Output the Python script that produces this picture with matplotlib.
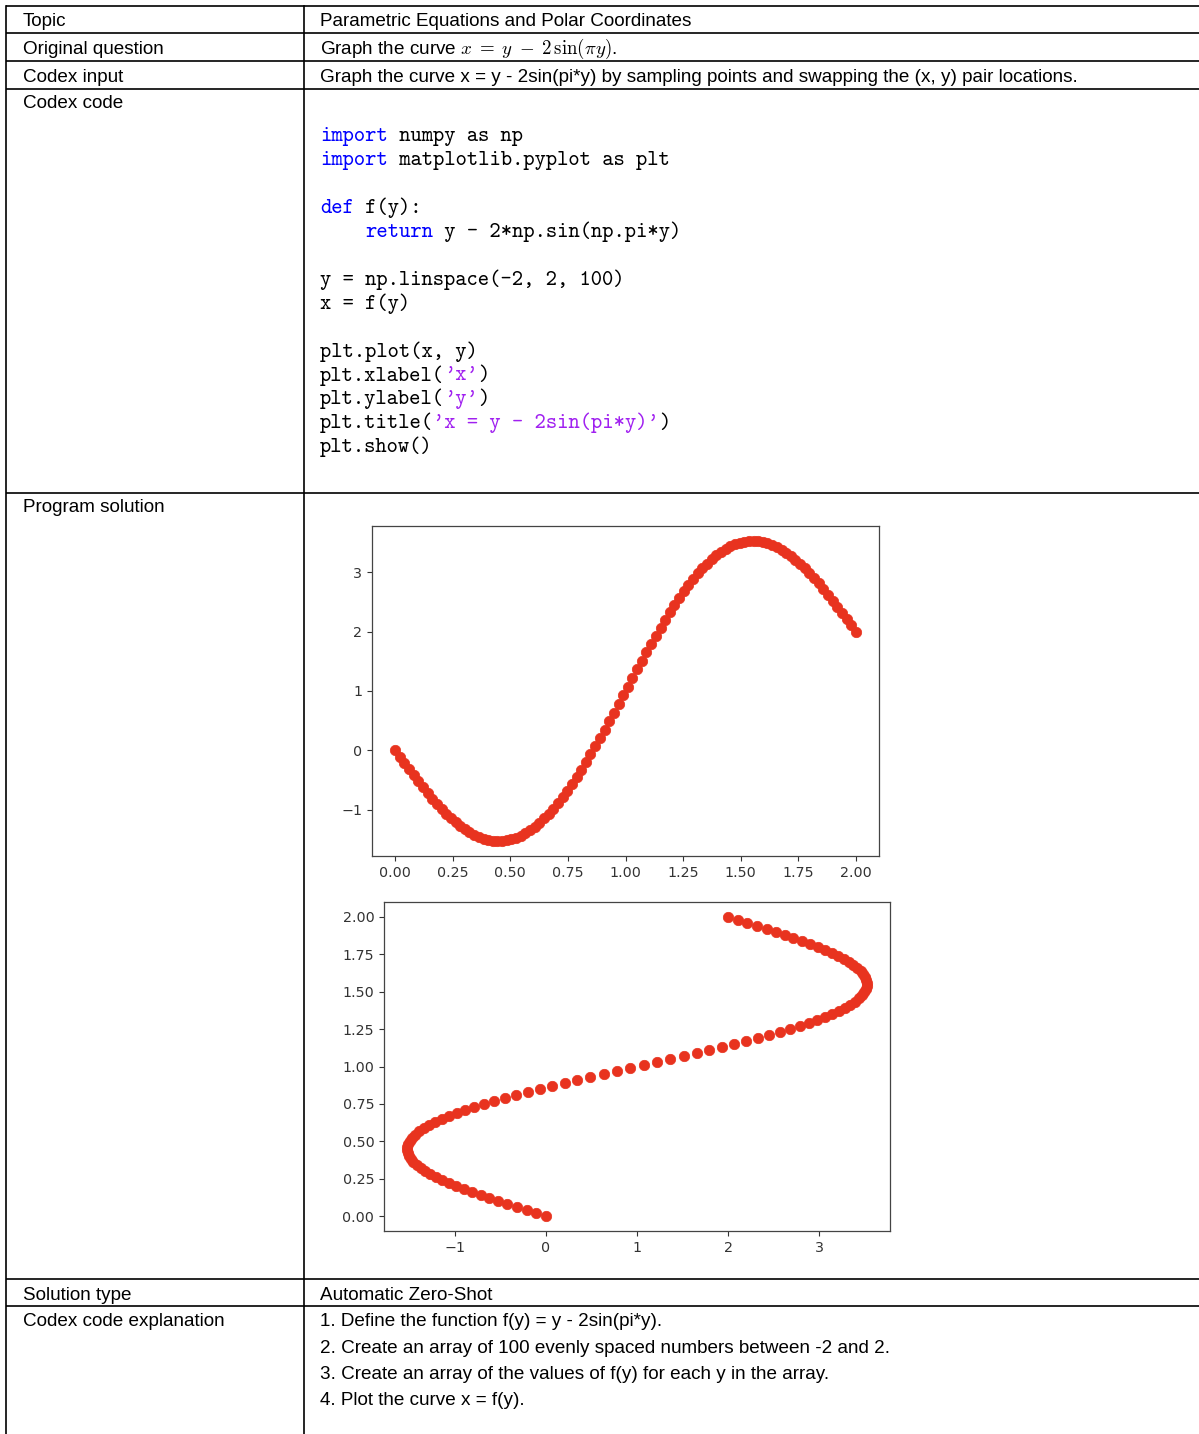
import matplotlib
matplotlib.use("Agg")
import matplotlib.pyplot as plt

plt.rcParams['mathtext.fontset'] = 'cm'

y_vals = [0.000, 0.020, 0.040, 0.061, 0.081, 0.101, 0.121, 0.141, 0.162, 0.182,
          0.202, 0.222, 0.242, 0.263, 0.283, 0.303, 0.323, 0.343, 0.364, 0.384,
          0.404, 0.424, 0.444, 0.465, 0.485, 0.505, 0.525, 0.545, 0.566, 0.586,
          0.606, 0.626, 0.646, 0.667, 0.687, 0.707, 0.727, 0.747, 0.768, 0.788,
          0.808, 0.828, 0.848, 0.869, 0.889, 0.909, 0.929, 0.949, 0.970, 0.990,
          1.010, 1.030, 1.051, 1.071, 1.091, 1.111, 1.131, 1.152, 1.172, 1.192,
          1.212, 1.232, 1.253, 1.273, 1.293, 1.313, 1.333, 1.354, 1.374, 1.394,
          1.414, 1.434, 1.455, 1.475, 1.495, 1.515, 1.535, 1.556, 1.576, 1.596,
          1.616, 1.636, 1.657, 1.677, 1.697, 1.717, 1.737, 1.758, 1.778, 1.798,
          1.818, 1.838, 1.859, 1.879, 1.899, 1.919, 1.939, 1.960, 1.980, 2.000]
x_vals = [0.000, -0.107, -0.213, -0.318, -0.422, -0.523, -0.622, -0.718, -0.811, -0.899,
          -0.984, -1.063, -1.138, -1.207, -1.269, -1.326, -1.376, -1.419, -1.456, -1.484,
          -1.506, -1.519, -1.525, -1.523, -1.513, -1.495, -1.468, -1.434, -1.392, -1.342,
          -1.284, -1.218, -1.146, -1.065, -0.978, -0.884, -0.784, -0.678, -0.566, -0.448,
          -0.326, -0.199, -0.068, 0.067, 0.205, 0.346, 0.489, 0.633, 0.780, 0.926,
          1.074, 1.220, 1.367, 1.511, 1.654, 1.795, 1.933, 2.068, 2.199, 2.326,
          2.448, 2.566, 2.678, 2.784, 2.884, 2.978, 3.065, 3.146, 3.218, 3.284,
          3.342, 3.392, 3.434, 3.468, 3.495, 3.513, 3.523, 3.525, 3.519, 3.506,
          3.484, 3.456, 3.419, 3.376, 3.326, 3.269, 3.207, 3.138, 3.063, 2.984,
          2.899, 2.811, 2.718, 2.622, 2.523, 2.422, 2.318, 2.213, 2.107, 2.000]

top_xticks = [0.0, 0.25, 0.5, 0.75, 1.0, 1.25, 1.5, 1.75, 2.0]
top_yticks = [-1, 0, 1, 2, 3]
bot_xticks = [-1, 0, 1, 2, 3]
bot_yticks = [0.0, 0.25, 0.5, 0.75, 1.0, 1.25, 1.5, 1.75, 2.0]

row_labels = ["Topic", "Original question", "Codex input", "Codex code",
              "Program solution", "Solution type", "Codex code explanation"]
row_values = ["Parametric Equations and Polar Coordinates",
              r"Graph the curve $x\;=\;y\;-\;2\,\sin(\pi y)$.",
              "Graph the curve x = y - 2sin(pi*y) by sampling points and swapping the (x, y) pair locations.",
              "", "", "Automatic Zero-Shot", ""]
explanation = ["1. Define the function f(y) = y - 2sin(pi*y).",
               "2. Create an array of 100 evenly spaced numbers between -2 and 2.",
               "3. Create an array of the values of f(y) for each y in the array.",
               "4. Plot the curve x = f(y)."]

KW = '#0000ff'
ST = '#a020f0'
BK = '#000000'
code_lines = [
    [("import", KW), (" numpy as np", BK)],
    [("import", KW), (" matplotlib.pyplot as plt", BK)],
    [],
    [("def", KW), (" f(y):", BK)],
    [("    ", BK), ("return", KW), (" y - 2*np.sin(np.pi*y)", BK)],
    [],
    [("y = np.linspace(-2, 2, 100)", BK)],
    [("x = f(y)", BK)],
    [],
    [("plt.plot(x, y)", BK)],
    [("plt.xlabel(", BK), ("'x'", ST), (")", BK)],
    [("plt.ylabel(", BK), ("'y'", ST), (")", BK)],
    [("plt.title(", BK), ("'x = y - 2sin(pi*y)'", ST), (")", BK)],
    [("plt.show()", BK)],
]

W, H = 1199, 1434
fig = plt.figure(figsize=(W / 100, H / 100), dpi=100)
bg = fig.add_axes([0, 0, 1, 1])
bg.set_xlim(0, W)
bg.set_ylim(H, 0)
bg.axis('off')

# table grid
row_lines = [6, 33, 61, 89, 493, 1279, 1306]
for yl in row_lines:
    bg.plot([6, W], [yl, yl], color='black', lw=1.2, solid_capstyle='butt')
bg.plot([6, 6], [6, H], color='black', lw=1.2)
bg.plot([303.5, 303.5], [6, H], color='black', lw=1.2)

sans = 'Liberation Sans'
fs = 13.6
label_base = [26.5, 53.5, 81.5, 108.5, 512.5, 1299.5, 1326.5]
for lab, val, yb in zip(row_labels, row_values, label_base):
    bg.text(23, yb, lab, family=sans, fontsize=fs, va='baseline', ha='left')
    if val:
        bg.text(320, yb, val, family=sans, fontsize=fs, va='baseline', ha='left')
for i, line in enumerate(explanation):
    bg.text(320, 1326.5 + i * 26.3, line, family=sans, fontsize=fs,
            va='baseline', ha='left')

# code block in typewriter font
cfs = 15.5
adv = 0.525 * cfs * 100 / 72
for k, segs in enumerate(code_lines):
    yb = 141 + k * 23.95
    col = 0
    for txt, c in segs:
        if txt.strip():
            bg.text(320 + col * adv, yb, txt, family='cmtt10', fontsize=cfs,
                    color=c, va='baseline', ha='left')
        col += len(txt)

red = '#e8331f'
grey = '#333333'


def px_axes(left, top, right, bottom):
    return fig.add_axes([left / W, 1 - bottom / H, (right - left) / W, (bottom - top) / H])


def style(ax):
    for s in ax.spines.values():
        s.set_color('#444444')
        s.set_linewidth(0.9)
    ax.tick_params(colors=grey, labelsize=10.3, length=3.5, width=0.8)


ax1 = px_axes(372, 526, 879, 856)
ax1.plot(y_vals, x_vals, 'o', color=red, ms=7.5, mew=0.5)
ax1.set_xticks(top_xticks)
ax1.set_xticklabels([f"{t:.2f}" for t in top_xticks])
ax1.set_yticks(top_yticks)
style(ax1)

ax2 = px_axes(384, 902, 890, 1231)
ax2.plot(x_vals, y_vals, 'o', color=red, ms=7.5, mew=0.5)
ax2.set_xticks(bot_xticks)
ax2.set_yticks(bot_yticks)
ax2.set_yticklabels([f"{t:.2f}" for t in bot_yticks])
style(ax2)

fig.savefig('out.png', dpi=100)
